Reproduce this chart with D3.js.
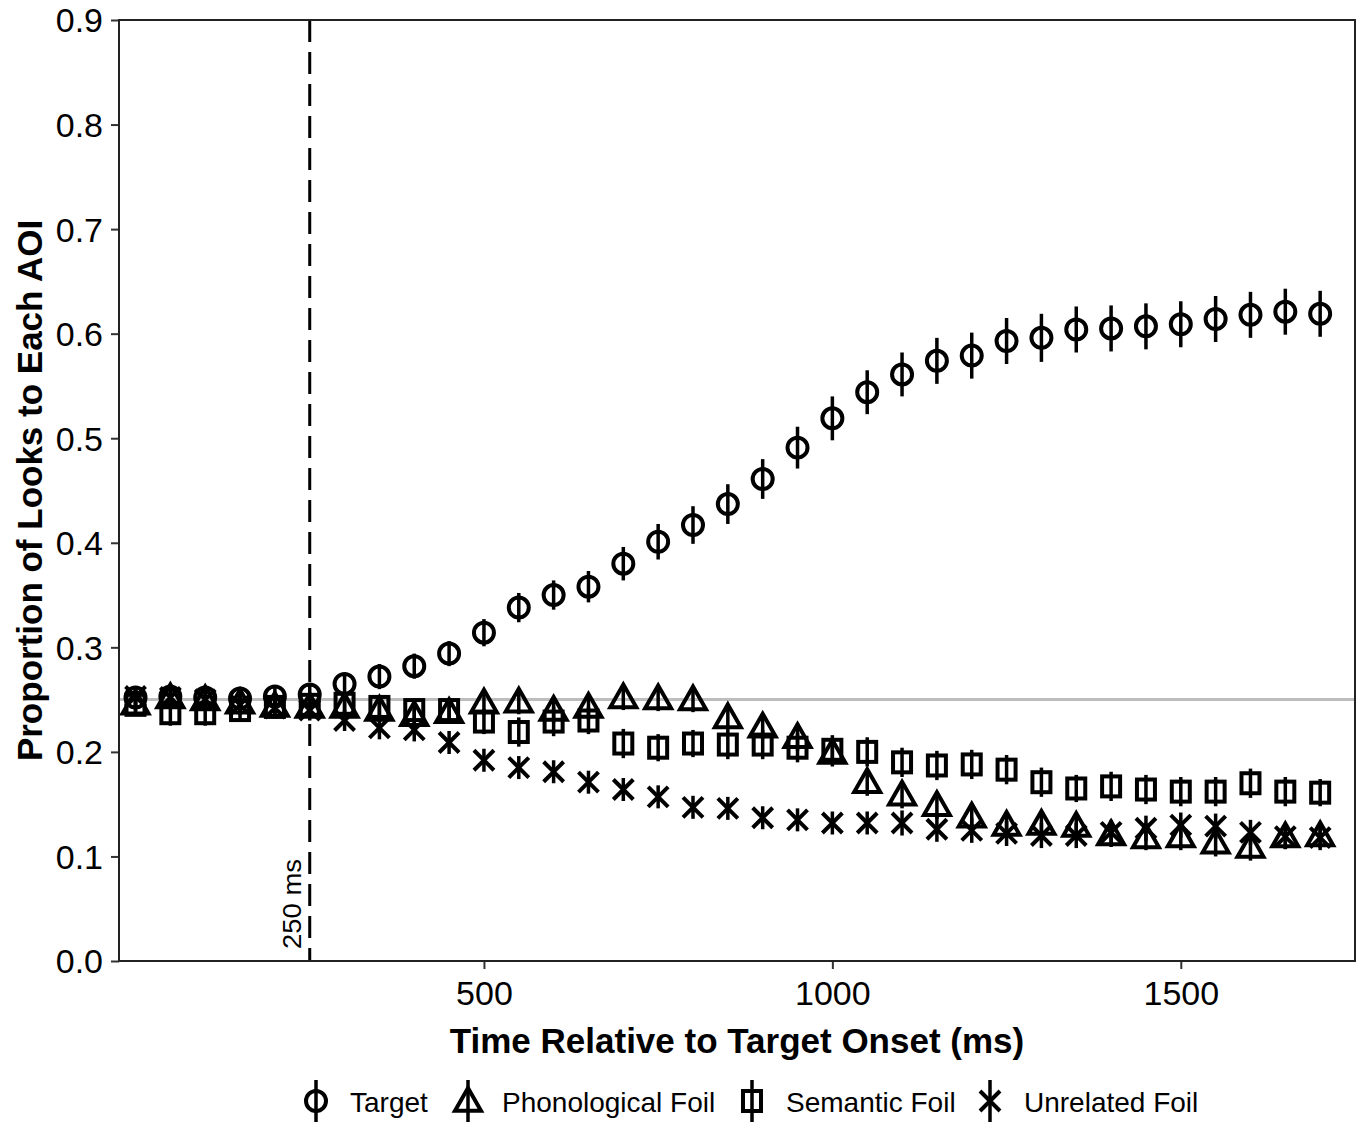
<!DOCTYPE html>
<html>
<head>
<meta charset="utf-8">
<script src="https://cdn.jsdelivr.net/npm/d3@7"></script>
<style>
  body { margin: 0; background: #fff; }
  text { font-family: "Liberation Sans", Arial, sans-serif; }
</style>
</head>
<body>
<script>
let width = 1363,
    height = 1123;

let margin = { top: 20, right: 8, bottom: 162, left: 119 };

// time bins (ms)
let times = [0,50,100,150,200,250,300,350,400,450,500,550,600,650,700,750,800,850,
  900,950,1000,1050,1100,1150,1200,1250,1300,1350,1400,1450,1500,1550,1600,1650,1700];

let target = [0.252,0.253,0.252,0.251,0.253,0.255,0.265,0.272,0.282,0.294,0.314,0.338,0.350,0.358,
  0.380,0.401,0.417,0.437,0.461,0.491,0.519,0.544,0.561,0.574,0.579,0.593,0.596,0.604,0.605,0.607,
  0.609,0.614,0.618,0.621,0.619];
let targetErr = [0.008,0.008,0.008,0.008,0.008,0.009,0.010,0.012,0.012,0.012,0.013,0.014,0.014,0.015,
  0.016,0.017,0.018,0.019,0.019,0.020,0.021,0.021,0.021,0.022,0.022,0.022,0.023,0.022,0.022,0.022,
  0.022,0.022,0.022,0.022,0.022];

let phon = [0.246,0.252,0.250,0.247,0.244,0.243,0.243,0.240,0.235,0.238,0.247,0.248,0.240,0.243,
  0.252,0.251,0.250,0.233,0.224,0.214,0.199,0.171,0.159,0.149,0.138,0.130,0.131,0.129,0.121,0.118,
  0.119,0.113,0.109,0.119,0.120];
let phonErr = [0.010,0.010,0.010,0.010,0.010,0.010,0.010,0.011,0.011,0.011,0.012,0.012,0.012,0.012,
  0.012,0.012,0.012,0.012,0.012,0.013,0.013,0.013,0.013,0.013,0.013,0.012,0.012,0.012,0.012,0.012,
  0.013,0.013,0.013,0.012,0.012];

let sem = [0.245,0.237,0.237,0.240,0.243,0.245,0.246,0.243,0.240,0.240,0.229,0.219,0.229,0.230,
  0.208,0.204,0.208,0.207,0.207,0.204,0.202,0.200,0.190,0.187,0.188,0.183,0.171,0.165,0.167,0.164,
  0.162,0.162,0.170,0.162,0.161];
let semErr = [0.010,0.012,0.012,0.010,0.010,0.010,0.010,0.011,0.011,0.011,0.012,0.014,0.014,0.013,
  0.014,0.013,0.013,0.014,0.014,0.014,0.014,0.014,0.014,0.014,0.014,0.014,0.014,0.013,0.014,0.014,
  0.014,0.014,0.014,0.014,0.013];

let unrel = [0.253,0.252,0.250,0.245,0.242,0.240,0.230,0.223,0.221,0.209,0.192,0.185,0.181,0.171,
  0.164,0.157,0.147,0.146,0.137,0.135,0.132,0.132,0.132,0.126,0.125,0.122,0.120,0.120,0.123,0.127,
  0.130,0.129,0.123,0.119,0.118];
let unrelErr = [0.010,0.010,0.010,0.010,0.010,0.010,0.010,0.011,0.011,0.011,0.011,0.011,0.011,0.011,
  0.011,0.011,0.011,0.011,0.011,0.011,0.011,0.011,0.012,0.012,0.012,0.012,0.012,0.012,0.012,0.012,
  0.012,0.012,0.012,0.012,0.012];

let yTicks = [0,0.1,0.2,0.3,0.4,0.5,0.6,0.7,0.8,0.9];
let xTicks = [500,1000,1500];

let seriesNames = ["Target","Phonological Foil","Semantic Foil","Unrelated Foil"];
let seriesShapes = ["circle","triangle","square","cross"];
let seriesValues = [target, phon, sem, unrel];
let seriesErrors = [targetErr, phonErr, semErr, unrelErr];

let w = width - margin.left - margin.right,
    h = height - margin.top - margin.bottom;

let svg = d3.select("body")
    .append("svg")
    .attr("width", width)
    .attr("height", height);

let g = svg.append("g")
    .attr("transform", "translate(" + margin.left + "," + margin.top + ")");

let x = d3.scaleLinear()
    .domain([-23.7, 1750])
    .range([0, w]);

let y = d3.scaleLinear()
    .domain([0, 0.9])
    .range([h, 0]);

// chance line
g.append("line")
    .attr("x1", 0).attr("x2", w)
    .attr("y1", y(0.25)).attr("y2", y(0.25))
    .attr("stroke", "#bdbdbd")
    .attr("stroke-width", 3);

// 250 ms marker
g.append("line")
    .attr("x1", x(250)).attr("x2", x(250))
    .attr("y1", 0).attr("y2", h)
    .attr("stroke", "#000")
    .attr("stroke-width", 3)
    .attr("stroke-dasharray", "22,10");

g.append("text")
    .attr("transform", "translate(" + (x(250) - 9) + "," + (h - 12) + ") rotate(-90)")
    .style("font-size", "25px")
    .attr("textLength", 90)
    .attr("lengthAdjust", "spacingAndGlyphs")
    .text("250 ms");

function drawShape(sel, shape, cx, cy) {
  if (shape === "circle") {
    sel.append("circle").attr("cx", cx).attr("cy", cy).attr("r", 10);
  } else if (shape === "triangle") {
    let s = 13;
    sel.append("path")
      .attr("d", "M" + cx + "," + (cy - s) + "L" + (cx + s) + "," + (cy + s * 0.75) +
        "L" + (cx - s) + "," + (cy + s * 0.75) + "Z");
  } else if (shape === "square") {
    sel.append("rect").attr("x", cx - 9).attr("y", cy - 10).attr("width", 18).attr("height", 20);
  } else {
    let s = 10;
    sel.append("path")
      .attr("d", "M" + (cx - s) + "," + (cy - s) + "L" + (cx + s) + "," + (cy + s) +
        "M" + (cx - s) + "," + (cy + s) + "L" + (cx + s) + "," + (cy - s));
  }
}

seriesValues.forEach((vals, i) => {
  let sg = g.append("g")
      .attr("fill", "none")
      .attr("stroke", "#000")
      .attr("stroke-width", 4);
  vals.forEach((v, j) => {
    let e = seriesErrors[i][j];
    sg.append("line")
      .attr("x1", x(times[j])).attr("x2", x(times[j]))
      .attr("y1", y(v - e)).attr("y2", y(v + e))
      .attr("stroke-width", 3.5);
    drawShape(sg, seriesShapes[i], x(times[j]), y(v));
  });
});

// axes
let yAxis = g.append("g")
    .call(d3.axisLeft(y).tickValues(yTicks).tickFormat(d3.format(".1f")).tickSizeOuter(0).tickSize(8));
let xAxis = g.append("g")
    .attr("transform", "translate(0," + h + ")")
    .call(d3.axisBottom(x).tickValues(xTicks).tickFormat(d3.format("d")).tickSizeOuter(0).tickSize(8));

[yAxis, xAxis].forEach(a => {
  a.select(".domain").remove();
  a.selectAll("line").attr("stroke", "#333").attr("stroke-width", 2);
  a.selectAll("text")
    .style("font-size", "34px")
    .style("font-family", "'Liberation Sans', Arial, sans-serif")
    .attr("fill", "#000");
});
yAxis.selectAll("text").attr("x", -16).attr("dy", "0.35em");
xAxis.selectAll("text").attr("y", 20);

// panel border
g.append("rect")
    .attr("width", w).attr("height", h)
    .attr("fill", "none")
    .attr("stroke", "#222")
    .attr("stroke-width", 2);

// axis titles
svg.append("text")
    .attr("x", margin.left + w / 2)
    .attr("y", 1053)
    .style("text-anchor", "middle")
    .style("font-size", "35px")
    .style("font-weight", "bold")
    .text("Time Relative to Target Onset (ms)");

svg.append("text")
    .attr("transform", "translate(42," + (margin.top + h / 2) + ") rotate(-90)")
    .style("text-anchor", "middle")
    .style("font-size", "35px")
    .style("font-weight", "bold")
    .text("Proportion of Looks to Each AOI");

// legend
let legendX = [316, 468, 752, 990];
let legend = svg.append("g");
seriesNames.forEach((name, i) => {
  let lg = legend.append("g")
    .attr("fill", "none")
    .attr("stroke", "#000")
    .attr("stroke-width", 4);
  lg.append("line")
    .attr("x1", legendX[i]).attr("x2", legendX[i])
    .attr("y1", 1080).attr("y2", 1122)
    .attr("stroke-width", 3.5);
  drawShape(lg, seriesShapes[i], legendX[i], 1101);
  legend.append("text")
    .attr("x", legendX[i] + 34)
    .attr("y", 1112)
    .style("font-size", "28px")
    .text(name);
});
</script>
</body>
</html>
